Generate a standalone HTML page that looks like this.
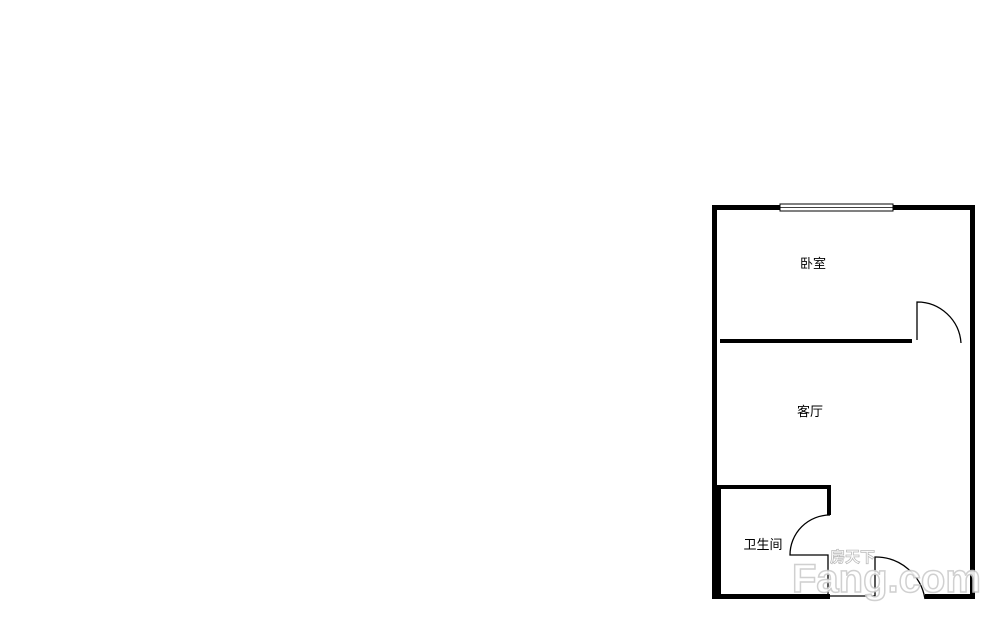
<!DOCTYPE html>
<html><head><meta charset="utf-8"><style>
html,body{margin:0;padding:0;background:#fff;width:990px;height:617px;overflow:hidden}
text{font-family:"Liberation Sans","Noto Sans CJK SC",sans-serif}
</style></head><body>
<svg width="990" height="617" xmlns="http://www.w3.org/2000/svg">
<g fill="#000">
<rect x="712" y="205" width="68" height="5"/>
<rect x="893" y="205" width="82" height="5"/>
<rect x="712" y="205" width="5" height="394"/>
<rect x="712" y="486" width="9" height="113"/>
<rect x="970" y="205" width="5" height="394"/>
<rect x="712" y="594" width="118" height="5"/>
<rect x="925" y="594" width="50" height="5"/>
<rect x="720" y="339" width="192" height="4"/>
<rect x="712" y="485" width="119" height="4"/>
<rect x="827" y="485" width="4" height="30"/>
</g>
<rect x="780" y="204" width="113" height="7" fill="#fff" stroke="#000" stroke-width="1"/>
<line x1="780" y1="207.5" x2="893" y2="207.5" stroke="#000" stroke-width="0.8"/>
<g fill="none" stroke="#000" stroke-width="1.3">
<path d="M917 340 V302 A44 44 0 0 1 961 343"/>
<path d="M830 515 A40 40 0 0 0 790 555 H828 V599"/>
<path d="M830 596 H875 V557 A50 50 0 0 1 925 599"/>
</g>
<text x="813" y="268" font-size="13" text-anchor="middle">卧室</text>
<text x="810" y="416" font-size="13" text-anchor="middle">客厅</text>
<text x="763" y="549" font-size="13" text-anchor="middle">卫生间</text>
<text x="792" y="592" font-size="40" font-weight="bold" fill="#fff" stroke="#ccc" stroke-width="1.5" opacity="0.9">Fang.com</text>
<text x="830" y="562" font-size="15" font-weight="bold" fill="#fff" stroke="#bbb" stroke-width="0.8">房天下</text>
</svg>
</body></html>
